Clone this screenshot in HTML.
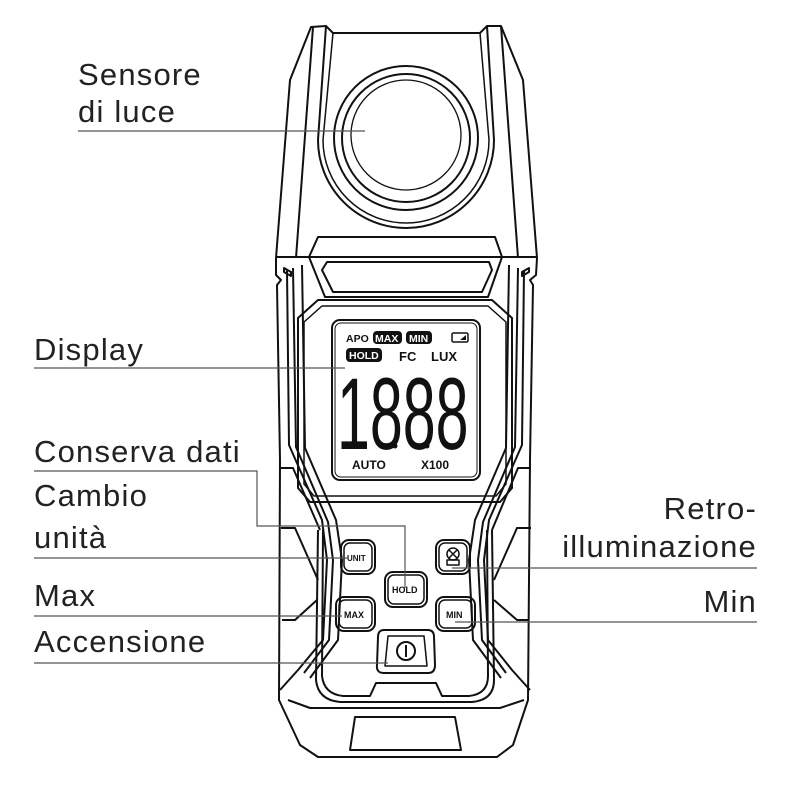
<!DOCTYPE html>
<html><head><meta charset="utf-8"><style>
html,body{margin:0;padding:0;background:#fff;}
svg{display:block}
.l{font-family:"Liberation Sans",sans-serif;font-size:31px;fill:#222;letter-spacing:1.2px}
.s{font-family:"Liberation Sans",sans-serif;font-weight:bold;fill:#111}
</style></head><body>
<svg width="800" height="800" viewBox="0 0 800 800" xmlns="http://www.w3.org/2000/svg">
<g fill="none" stroke="#111" stroke-width="2" stroke-linejoin="round">
<!-- head -->
<path d="M276,258 L290,80 L311,27 L326,26 L333,33 L480,33 L487,26 L501,26 L523,80 L537,258"/>
<line x1="276" y1="257" x2="537" y2="257"/>
<path d="M313,27 L296,258 M501,26 L518,258"/>
<path d="M326,26 L318,140 A88,88 0 0 0 494,140 L487,26"/>
<path d="M333,33 L323,140 A83,83 0 0 0 489,140 L480,33" stroke-width="1.5"/>
<circle cx="406" cy="138" r="72"/>
<circle cx="406" cy="138" r="64"/>
<circle cx="406" cy="135" r="55" stroke-width="1.3"/>
<!-- vent -->
<path d="M318,237 L495,237 L502,257 L488,297 L325,297 L309,257 Z"/>
<path d="M327,262 L489,262 L492,270 L482,292 L333,292 L322,270 Z"/>
<!-- body sides -->
<path d="M276,258 L276,275 L281,280 L277,285 L280,460 L279,700 L300,745 L318,757 L497,757 L513,745 L528,700 L530,460 L533,285 L530,280 L536,275 L537,258"/>
<path d="M284,268 L291,272 L291,276 L284,272 Z M529,268 L522,272 L522,276 L529,272 Z"/>
<path d="M287,270 L289,445 L322,520 L327,560 L323,640 L298,670 L280,690"/>
<path d="M293,268 L296,447 L328,522 L333,560 L329,640 L304,673"/>
<path d="M302,265 L305,448 L336,520 L342,560 L338,640 L310,678"/>
<path d="M524,270 L522,445 L489,520 L484,560 L488,640 L512,670 L530,690"/>
<path d="M518,268 L515,447 L483,522 L478,560 L482,640 L506,673"/>
<path d="M509,265 L506,448 L475,520 L469,560 L473,640 L501,678"/>
<path d="M280,468 L293,468 L320,530 M281,528 L295,528 L318,580 M282,620 L295,620 L317,600 M531,468 L518,468 L492,530 M531,528 L517,528 L494,580 M529,620 L517,620 L494,600"/>
<!-- display frame -->
<path d="M318,300 L492,300 L512,318 L512,488 L500,502 L310,502 L298,488 L298,318 Z"/>
<path d="M322,306 L488,306 L506,322 L506,484 L496,496 L314,496 L304,484 L304,322 Z" stroke-width="1.5"/>
<rect x="332" y="320" width="148" height="160" rx="8"/>
<rect x="335" y="323" width="142" height="154" rx="6" stroke-width="1"/>
<!-- lower frame -->
<path d="M318,530 L316,680 Q318,700 340,702 L472,702 Q494,700 494,680 L492,530"/>
<path d="M323,530 L322,676 Q324,694 343,696 L370,696 L376,683 L436,683 L442,696 L469,696 Q488,694 488,676 L487,530"/>
<path d="M288,700 L310,708 L500,708 L524,700"/>
<path d="M355,717 L455,717 L461,750 L350,750 Z"/>
<!-- buttons -->
<rect x="341" y="540" width="34" height="34" rx="8"/><rect x="344" y="543" width="28" height="28" rx="6" stroke-width="1.5"/>
<rect x="436" y="540" width="34" height="34" rx="8"/><rect x="439" y="543" width="28" height="28" rx="6" stroke-width="1.5"/>
<rect x="385" y="572" width="42" height="35" rx="8"/><rect x="388" y="575" width="36" height="29" rx="6" stroke-width="1.5"/>
<rect x="336" y="597" width="39" height="34" rx="8"/><rect x="339" y="600" width="33" height="28" rx="6" stroke-width="1.5"/>
<rect x="436" y="597" width="39" height="34" rx="8"/><rect x="439" y="600" width="33" height="28" rx="6" stroke-width="1.5"/>
<path d="M384,630 L428,630 Q434,630 434,637 L435,665 Q435,673 428,673 L384,673 Q376,673 377,665 L378,637 Q378,630 384,630 Z"/>
<path d="M388,636 L424,636 L427,666 L385,666 Z" stroke-width="1.5"/>
<circle cx="406" cy="651" r="9"/><line x1="406" y1="645" x2="406" y2="657"/>
<circle cx="453" cy="554" r="6" stroke-width="1.5"/><path d="M449,550 L457,558 M457,550 L449,558 M447,560 L459,560 L459,565 L447,565 Z" stroke-width="1.5"/>
<rect x="452" y="333" width="16" height="9" rx="1.5" stroke-width="1.5"/>
</g>
<!-- display text -->
<rect x="373" y="331" width="29" height="13" rx="4" fill="#111"/>
<rect x="406" y="331" width="26" height="13" rx="4" fill="#111"/>
<rect x="346" y="348" width="36" height="14" rx="4" fill="#111"/>
<path d="M460,340 L466,335 L466,340 Z" fill="#111"/>
<text class="s" x="346" y="342" font-size="10.5">APO</text>
<text class="s" x="375" y="342" font-size="10.5" style="fill:#fff">MAX</text>
<text class="s" x="409" y="342" font-size="10.5" style="fill:#fff">MIN</text>
<text class="s" x="349" y="359" font-size="10.5" style="fill:#fff">HOLD</text>
<text class="s" x="399" y="361" font-size="13">FC</text>
<text class="s" x="431" y="361" font-size="13">LUX</text>
<text class="s" x="352" y="469" font-size="12">AUTO</text>
<text class="s" x="421" y="469" font-size="12">X100</text>
<text font-family="Liberation Sans,sans-serif" font-size="102" fill="#111" transform="translate(337,449) scale(0.58,1)">1888</text>
<circle cx="363" cy="446" r="2.5" fill="#111"/><circle cx="395" cy="446" r="2.5" fill="#111"/><circle cx="427" cy="446" r="2.5" fill="#111"/>
<text class="s" x="347" y="561" font-size="8">UNIT</text>
<text class="s" x="392" y="593" font-size="9">HOLD</text>
<text class="s" x="344" y="618" font-size="9">MAX</text>
<text class="s" x="446" y="618" font-size="9">MIN</text>
<!-- leader lines -->
<g fill="none" stroke="#555" stroke-width="1.2">
<path d="M78,131 L365,131"/>
<path d="M34,368 L345,368"/>
<path d="M34,471 L257,471 L257,526 L405,526 L405,588"/>
<path d="M34,558 L348,558"/>
<path d="M34,616 L342,616"/>
<path d="M34,663 L388,663"/>
<path d="M757,568 L452,568"/>
<path d="M757,622 L455,622"/>
</g>
<!-- labels -->
<text class="l" x="78" y="85">Sensore</text>
<text class="l" x="78" y="122">di luce</text>
<text class="l" x="34" y="360">Display</text>
<text class="l" x="34" y="462">Conserva dati</text>
<text class="l" x="34" y="506">Cambio</text>
<text class="l" x="34" y="548">unità</text>
<text class="l" x="34" y="606">Max</text>
<text class="l" x="34" y="652">Accensione</text>
<text class="l" x="757" y="519" text-anchor="end">Retro-</text>
<text class="l" x="757" y="557" text-anchor="end">illuminazione</text>
<text class="l" x="757" y="612" text-anchor="end">Min</text>
</svg>
</body></html>
